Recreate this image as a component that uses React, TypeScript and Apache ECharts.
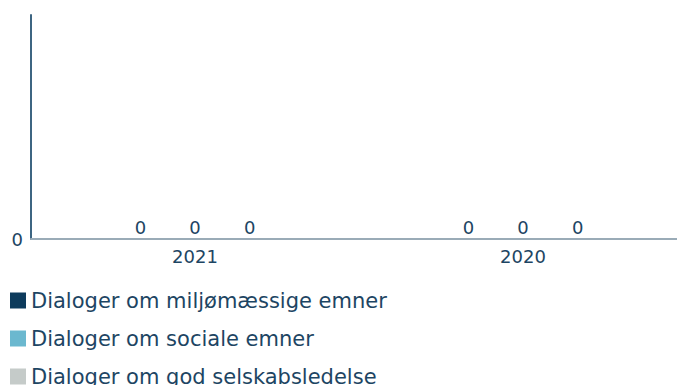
import React, { useEffect, useRef } from "react";
import * as echarts from "echarts";

const categories = ["2021", "2020"];
const seriesNames = [
  "Dialoger om miljømæssige emner",
  "Dialoger om sociale emner",
  "Dialoger om god selskabsledelse",
];
const environmental = [0, 0];
const social = [0, 0];
const governance = [0, 0];
const colors = ["#0d3b5c", "#6bb8cf", "#c5cbc9"];

export default function App() {
  const ref = useRef<HTMLDivElement>(null);
  useEffect(() => {
    document.body.style.margin = "0";
    document.body.style.overflow = "hidden";
    const chart = echarts.init(ref.current!, null, { renderer: "svg" });
    const textColor = "#1d4563";
    const font = "'DejaVu Sans', sans-serif";
    const data = [environmental, social, governance];
    chart.setOption({
      animation: false,
      color: colors,
      grid: { left: 31, right: 0, top: 15, bottom: 146, containLabel: false },
      legend: seriesNames.map((name, i) => ({
        orient: "vertical",
        left: 5,
        top: 285 + i * 38,
        itemWidth: 16,
        itemHeight: 16,
        icon: "rect",
        textStyle: { color: textColor, fontSize: 21, fontFamily: font },
        data: [name],
      })),
      xAxis: {
        type: "category",
        data: categories,
        axisLine: { lineStyle: { color: "#9aabb7", width: 2 } },
        axisTick: { alignWithLabel: true, length: 4, lineStyle: { color: "#9aabb7" } },
        axisLabel: { color: textColor, fontSize: 18, fontFamily: font, margin: 8 },
      },
      yAxis: {
        type: "value",
        min: 0,
        max: 1,
        interval: 1,
        axisLine: { show: true, lineStyle: { color: "#3d6582", width: 2 } },
        axisTick: { show: false },
        splitLine: { show: false },
        axisLabel: {
          color: textColor,
          fontSize: 18,
          fontFamily: font,
          margin: 8,
          formatter: (v: number) => (v === 0 ? "0" : ""),
        },
      },
      series: seriesNames.map((name, i) => ({
        name,
        type: "bar",
        data: data[i],
        barWidth: 42,
        barGap: "30%",
        label: {
          show: true,
          position: "top",
          color: textColor,
          fontSize: 18,
          fontFamily: font,
          distance: 3,
        },
      })),
    });
    return () => chart.dispose();
  }, []);
  return <div ref={ref} style={{ width: 687, height: 385 }} />;
}
